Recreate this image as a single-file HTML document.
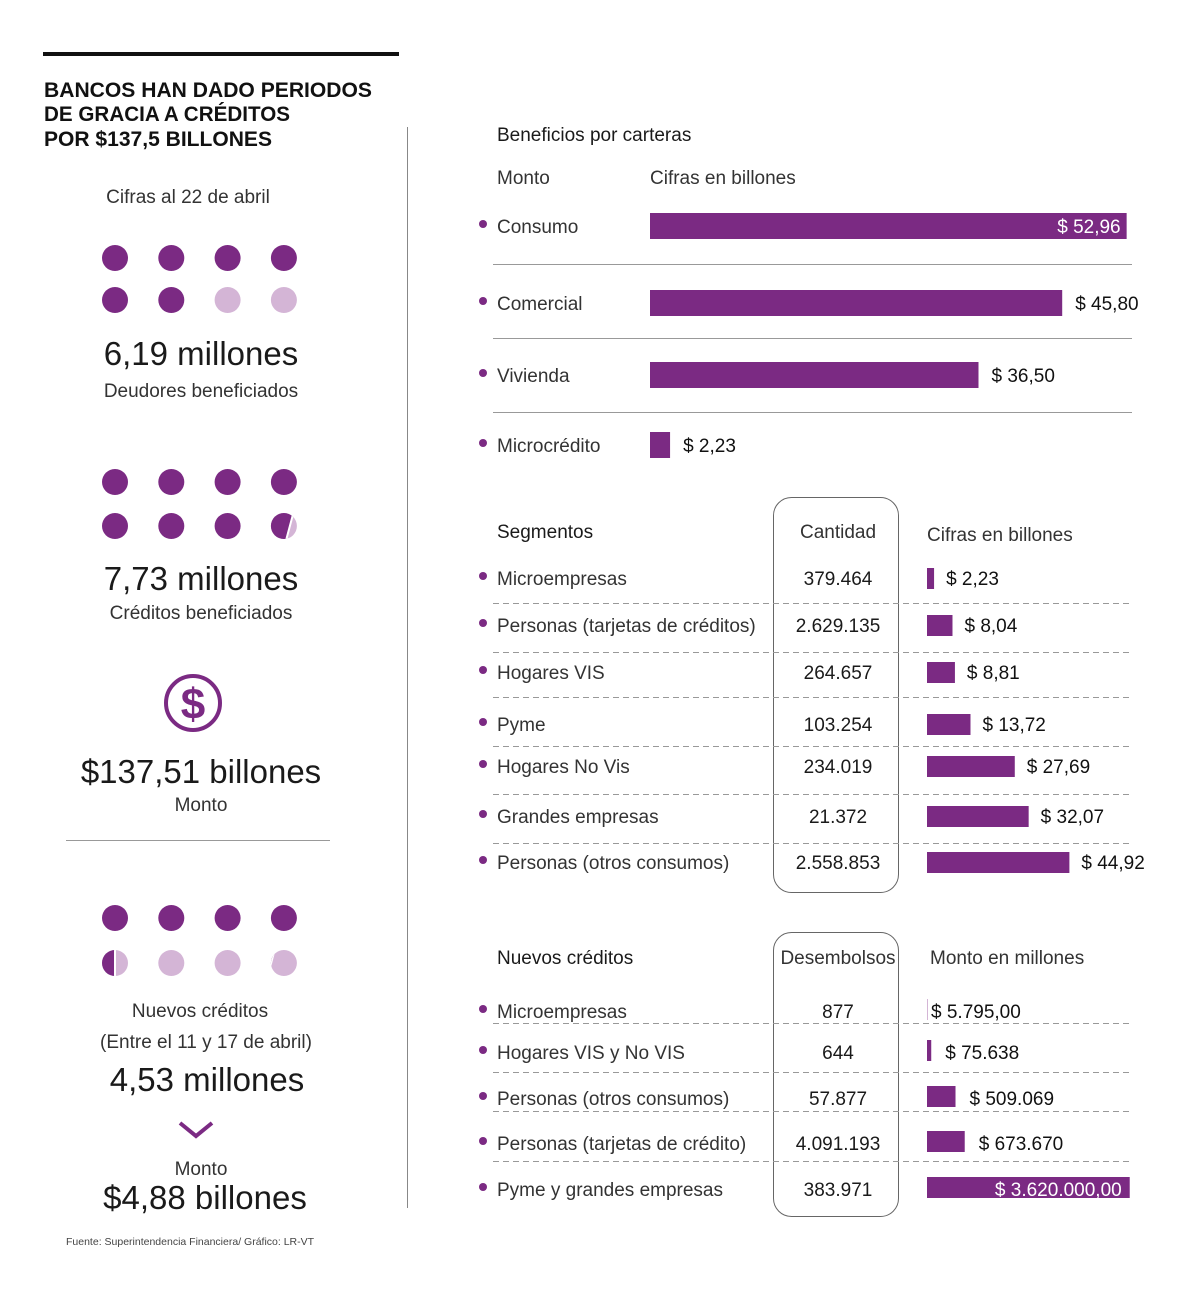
<!DOCTYPE html>
<html><head><meta charset="utf-8"><style>
html,body{margin:0;padding:0;background:#fff}
svg{display:block;font-family:"Liberation Sans",sans-serif}
.t{fill:#1a1a1a}
.l{fill:#333;font-weight:300}
</style></head><body>
<svg id="c" width="1200" height="1292" viewBox="0 0 1200 1292" xmlns="http://www.w3.org/2000/svg">
<defs id="defs"></defs>
<rect x="43" y="52" width="356" height="4" fill="#111"/>
<g font-weight="bold" font-size="21" fill="#111">
<text x="44" y="97" textLength="328" lengthAdjust="spacingAndGlyphs">BANCOS HAN DADO PERIODOS</text>
<text x="44" y="121" textLength="246" lengthAdjust="spacingAndGlyphs">DE GRACIA A CRÉDITOS</text>
<text x="44" y="146" textLength="228" lengthAdjust="spacingAndGlyphs">POR $137,5 BILLONES</text>
</g>
<text class="l" x="188" y="203" font-size="19" text-anchor="middle">Cifras al 22 de abril</text>
<line x1="407.5" y1="127" x2="407.5" y2="1208" stroke="#888" stroke-width="1"/>
<g id="dots"></g>
<text class="t" x="201" y="365" font-size="33" text-anchor="middle">6,19 millones</text>
<text class="l" x="201" y="397" font-size="19" text-anchor="middle">Deudores beneficiados</text>
<text class="t" x="201" y="590" font-size="33" text-anchor="middle">7,73 millones</text>
<text class="l" x="201" y="619" font-size="19" text-anchor="middle">Créditos beneficiados</text>
<g>
<circle cx="193" cy="703" r="27" fill="none" stroke="#7b2a83" stroke-width="4"/>
<text x="193" y="719" font-size="44" font-weight="bold" fill="#7b2a83" text-anchor="middle">$</text>
</g>
<text class="t" x="201" y="783" font-size="33" text-anchor="middle">$137,51 billones</text>
<text class="l" x="201" y="811" font-size="19" text-anchor="middle">Monto</text>
<line x1="66" y1="840.5" x2="330" y2="840.5" stroke="#999"/>
<text class="l" x="200" y="1017" font-size="19" text-anchor="middle">Nuevos créditos</text>
<text class="l" x="206" y="1048" font-size="19" text-anchor="middle">(Entre el 11 y 17 de abril)</text>
<text class="t" x="207" y="1091" font-size="33" text-anchor="middle">4,53 millones</text>
<path d="M180 1123 L196 1136 L212 1123" fill="none" stroke="#7b2a83" stroke-width="4"/>
<text class="l" x="201" y="1175" font-size="19" text-anchor="middle">Monto</text>
<text class="t" x="205" y="1209" font-size="33" text-anchor="middle">$4,88 billones</text>
<text x="66" y="1245" font-size="10.5" fill="#444">Fuente: Superintendencia Financiera/ Gráfico: LR-VT</text>

<text class="t" x="497" y="141" font-size="19">Beneficios por carteras</text>
<text class="l" x="497" y="184" font-size="19">Monto</text>
<text class="l" x="650" y="184" font-size="19">Cifras en billones</text>
<g id="cart"></g>

<rect x="773.5" y="497.5" width="125" height="395" rx="18" fill="none" stroke="#666"/>
<text class="t" x="497" y="538" font-size="19">Segmentos</text>
<text class="l" x="838" y="538" font-size="19" text-anchor="middle">Cantidad</text>
<text class="l" x="927" y="541" font-size="19">Cifras en billones</text>
<g id="seg"></g>

<rect x="773.5" y="932.5" width="125" height="284" rx="18" fill="none" stroke="#666"/>
<text class="t" x="497" y="964" font-size="19">Nuevos créditos</text>
<text class="l" x="838" y="964" font-size="19" text-anchor="middle">Desembolsos</text>
<text class="l" x="930" y="964" font-size="19">Monto en millones</text>
<g id="nue"></g>
</svg>
<script>
const carteraNames=["Consumo","Comercial","Vivienda","Microcrédito"];
const carteraValues=[52.96,45.80,36.50,2.23];
const carteraLabels=["$ 52,96","$ 45,80","$ 36,50","$ 2,23"];
const segNames=["Microempresas","Personas (tarjetas de créditos)","Hogares VIS","Pyme","Hogares No Vis","Grandes empresas","Personas (otros consumos)"];
const segCounts=["379.464","2.629.135","264.657","103.254","234.019","21.372","2.558.853"];
const segValues=[2.23,8.04,8.81,13.72,27.69,32.07,44.92];
const segLabels=["$ 2,23","$ 8,04","$ 8,81","$ 13,72","$ 27,69","$ 32,07","$ 44,92"];
const nueNames=["Microempresas","Hogares VIS y No VIS","Personas (otros consumos)","Personas (tarjetas de crédito)","Pyme y grandes empresas"];
const nueCounts=["877","644","57.877","4.091.193","383.971"];
const nueValues=[5795,75638,509069,673670,3620000];
const nueLabels=["$ 5.795,00","$ 75.638","$ 509.069","$ 673.670","$ 3.620.000,00"];
const dotFill1=[1,1,1,1,1,1,0,0];
const dotFill2=[1,1,1,1,1,1,1,0.73];
const dotFill3=[1,1,1,1,0.5,0,0,0.01];

const NS="http://www.w3.org/2000/svg";
const P="#7b2a83",LP="#d4b5d6";
function mk(par,tag,at,txt){const e=document.createElementNS(NS,tag);for(const k in at)e.setAttribute(k,at[k]);if(txt!=null)e.textContent=txt;par.appendChild(e);return e;}
const xC=v=>650+v*9.0;
const xS=v=>927+v*3.17;
const xN=v=>927+v*5.6e-5;

const defs=document.getElementById('defs');
const dg=document.getElementById('dots');
let cid=0;
function dotGrid(fills,y0,dy){
 fills.forEach((f,i)=>{
  const cx=115+(i%4)*56.3, cy=y0+Math.floor(i/4)*dy, r=13;
  const g=mk(dg,'g',{});
  
  
  mk(g,'circle',{cx,cy,r,fill:f>=1?P:LP});
  if(f>0&&f<1){
   const id='dc'+(cid++);
   const cp=mk(defs,'clipPath',{id});
   mk(cp,'circle',{cx,cy,r});
   const gc=mk(g,'g',{'clip-path':`url(#${id})`});
   const xm=cx-r+2*r*f;
   const sl=f===0.5?0:4;
   mk(gc,'polygon',{points:`${cx-r-2},${cy-r-2} ${xm+sl},${cy-r-2} ${xm-sl},${cy+r+2} ${cx-r-2},${cy+r+2}`,fill:P});
   mk(gc,'line',{x1:xm+sl,y1:cy-r-2,x2:xm-sl,y2:cy+r+2,stroke:'#fff','stroke-width':2});
  }
 });
}
dotGrid(dotFill1,258,42);dotGrid(dotFill2,482,44);dotGrid(dotFill3,918,45);

function bullet(par,y){const c=mk(par,'circle',{cx:483,cy:y-2,r:4,fill:P});
 }

const cg=document.getElementById('cart');
const cY=[226,303,375,445];
carteraNames.forEach((n,i)=>{
 const y=cY[i];
 bullet(cg,y);
 const t=mk(cg,'text',{x:497,y:y+7,'font-size':19,class:'l'},n);
 
 const xe=xC(carteraValues[i]);
 const b=mk(cg,'rect',{x:650,y:y-13,width:xe-650,height:26,fill:P});
 
 const inside=i===0;
 const v=mk(cg,'text',{x:inside?xe-6:xe+13,y:y+7,'font-size':19,fill:inside?'#fff':'#111','text-anchor':inside?'end':'start'},carteraLabels[i]);
 
 if(i<3){const ly=[264.5,338.5,412.5][i];const l=mk(cg,'line',{x1:493,y1:ly,x2:1132,y2:ly,stroke:'#999'});
  }
});

const sg=document.getElementById('seg');
const sY=[578,625,672,724,766,816,862];
const sSep=[603.5,652.5,697.5,746.5,794.5,843.5];
segNames.forEach((n,i)=>{
 const y=sY[i];
 bullet(sg,y);
 const t=mk(sg,'text',{x:497,y:y+7,'font-size':19,class:'l'},n);
 
 const c=mk(sg,'text',{x:838,y:y+7,'font-size':19,class:'t','text-anchor':'middle'},segCounts[i]);
 
 const xe=xS(segValues[i]);
 const b=mk(sg,'rect',{x:927,y:y-10,width:xe-927,height:21,fill:P});
 
 const v=mk(sg,'text',{x:xe+12,y:y+7,'font-size':19,fill:'#111'},segLabels[i]);
 
 if(i<sSep.length){const l=mk(sg,'line',{x1:493,y1:sSep[i],x2:1132,y2:sSep[i],stroke:'#999','stroke-dasharray':'6 4'});
  }
});

const ng=document.getElementById('nue');
const nY=[1011,1052,1098,1143,1189];
const nSep=[1023.5,1072.5,1111.5,1161.5];
nueNames.forEach((n,i)=>{
 const y=nY[i];
 bullet(ng,y);
 const t=mk(ng,'text',{x:497,y:y+7,'font-size':19,class:'l'},n);
 
 const c=mk(ng,'text',{x:838,y:y+7,'font-size':19,class:'t','text-anchor':'middle'},nueCounts[i]);
 
 const xe=Math.max(xN(nueValues[i]),928);
 const b=mk(ng,'rect',{x:927,y:y-12,width:xe-927,height:21,fill:i===0?LP:P});
 
 const inside=xe-927>150;
 const v=mk(ng,'text',{x:inside?xe-8:(i===0?xe+3:xe+14),y:y+7,'font-size':19,fill:inside?'#fff':'#111','text-anchor':inside?'end':'start'},nueLabels[i]);
 
 if(i<nSep.length){const l=mk(ng,'line',{x1:493,y1:nSep[i],x2:1132,y2:nSep[i],stroke:'#999','stroke-dasharray':'6 4'});
  }
});
</script>
</body></html>
